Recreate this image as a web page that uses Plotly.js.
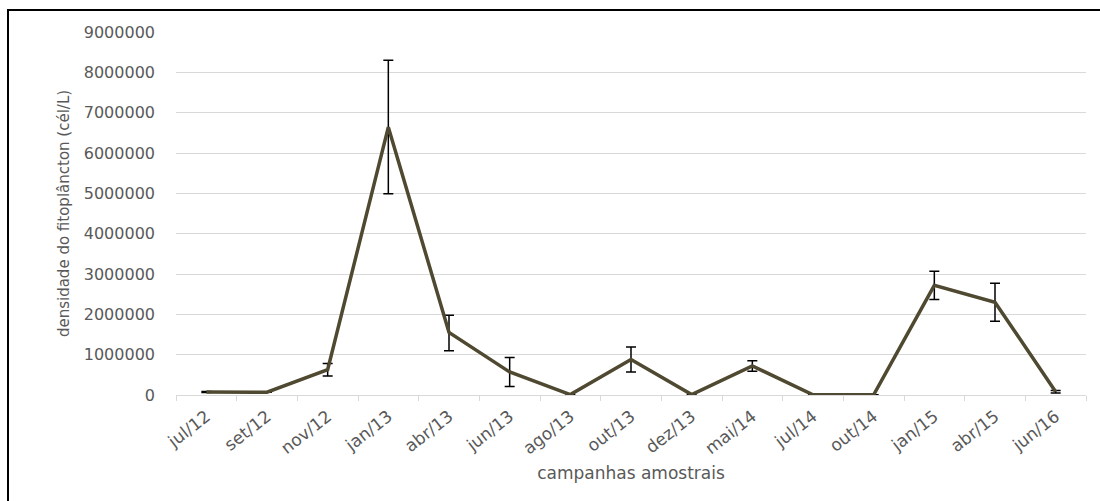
<!DOCTYPE html>
<html>
<head>
<meta charset="utf-8">
<script src="https://cdn.plot.ly/plotly-3.0.1.min.js"></script>
<style>
  html, body { margin: 0; padding: 0; background: #fff; overflow: hidden; }
  #frame { position: absolute; left: 7px; top: 9px; width: 1200px; height: 600px;
           border-left: 2px solid #000; border-top: 2px solid #000; pointer-events: none; }
  #chart { position: absolute; left: 0; top: 0; width: 1100px; height: 501px; }
</style>
</head>
<body>
<div id="chart"></div>
<div id="frame"></div>
<script>
const categories = ['jul/12','set/12','nov/12','jan/13','abr/13','jun/13','ago/13','out/13','dez/13','mai/14','jul/14','out/14','jan/15','abr/15','jun/16'];
const density = [75000, 70000, 630000, 6640000, 1550000, 570000, 10000, 880000, 10000, 720000, 5000, 5000, 2720000, 2300000, 80000];
const errorUp = [10000, 0, 150000, 1660000, 430000, 360000, 0, 310000, 0, 130000, 0, 0, 350000, 470000, 30000];
const errorDown = [10000, 0, 160000, 1650000, 450000, 360000, 0, 310000, 0, 130000, 0, 0, 350000, 470000, 30000];
const yTicks = [0, 1000000, 2000000, 3000000, 4000000, 5000000, 6000000, 7000000, 8000000, 9000000];

const trace = {
  type: 'scatter',
  mode: 'lines',
  x: categories,
  y: density,
  line: { color: '#4e4930', width: 3.5 },
  error_y: {
    type: 'data', symmetric: false,
    array: errorUp, arrayminus: errorDown,
    color: '#000000', thickness: 1.5, width: 5
  },
  hoverinfo: 'x+y'
};

const layout = {
  width: 1100, height: 501,
  margin: { l: 176, r: 14, t: 32, b: 106 },
  paper_bgcolor: '#ffffff', plot_bgcolor: '#ffffff',
  showlegend: false,
  font: { family: 'DejaVu Sans, sans-serif', color: '#595959' },
  xaxis: {
    type: 'category',
    tickangle: -38,
    tickfont: { size: 17, color: '#595959' },
    ticklabelstandoff: 4,
    showgrid: false,
    showline: true, linecolor: '#d9d9d9', linewidth: 1,
    ticks: 'outside', tickson: 'boundaries', ticklen: 5, tickcolor: '#d9d9d9',
    range: [-0.5, categories.length - 0.5],
    title: { text: 'campanhas amostrais', font: { size: 17, color: '#595959' }, standoff: 9 }
  },
  yaxis: {
    range: [0, 9000000],
    tickvals: yTicks,
    ticktext: yTicks.map(String),
    tickfont: { size: 16, color: '#595959' },
    showgrid: true, gridcolor: '#d9d9d9', gridwidth: 1,
    zeroline: false, showline: false,
    ticklabelstandoff: 20,
    title: { text: 'densidade do fitoplâncton (cél/L)', font: { size: 15, color: '#595959' }, standoff: 10 }
  }
};

Plotly.newPlot('chart', [trace], layout, { displayModeBar: false, staticPlot: true });
</script>
</body>
</html>
